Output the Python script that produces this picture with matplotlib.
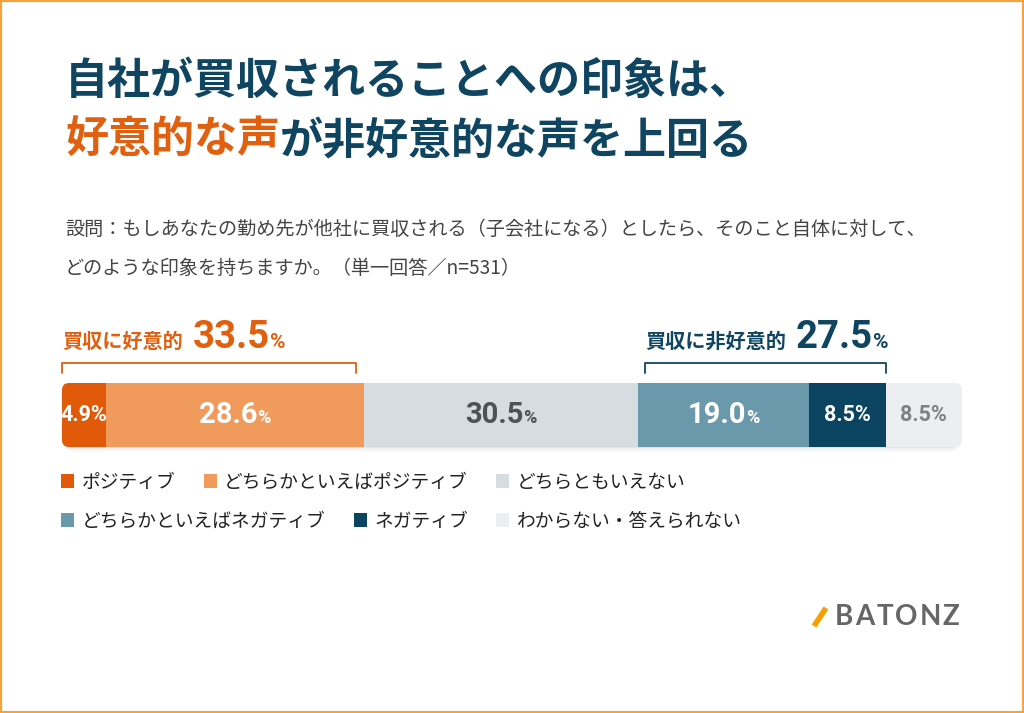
import numpy as np
import matplotlib
matplotlib.use('Agg')
import matplotlib.pyplot as plt
from matplotlib.patches import FancyBboxPatch, Rectangle
from matplotlib.offsetbox import TextArea, HPacker, AnnotationBbox
from matplotlib.lines import Line2D

plt.rcParams['font.family'] = ['Noto Sans CJK JP', 'DejaVu Sans']

# --- data ---
categories = ['ポジティブ', 'どちらかといえばポジティブ', 'どちらともいえない',
              'どちらかといえばネガティブ', 'ネガティブ', 'わからない・答えられない']
shares = [4.9, 28.6, 30.5, 19.0, 8.5, 8.5]
colors = ['#e05a0a', '#f09a5c', '#d6dde1', '#6b99ac', '#0b4461', '#eceef1']
label_colors = ['white', 'white', '#4b5358', 'white', 'white', '#808080']
big_label = [False, True, True, True, False, False]

group_names = ['買収に好意的', '買収に非好意的']
group_totals = [33.5, 27.5]
group_members = [[0, 1], [3, 4]]
group_colors = ['#e0600f', '#0f4560']

title_line1 = '自社が買収されることへの印象は、'
title_hl = '好意的な声'
title_rest = 'が非好意的な声を上回る'
question = ['設問：もしあなたの勤め先が他社に買収される（子会社になる）としたら、そのこと自体に対して、',
            'どのような印象を持ちますか。（単一回答／n=531）']
logo = 'BATONZ'

NAVY = '#0f4560'
ORANGE = '#e0600f'
NUM_FONT = ['Roboto', 'DejaVu Sans']

W, H = 1024, 713
fig = plt.figure(figsize=(W / 100, H / 100), dpi=100)
fig.patch.set_facecolor('white')


def fx(px):
    return px / W


def fy(py):
    return 1 - py / H


# title + question
fig.text(fx(65), fy(81), title_line1, fontsize=31, fontweight='bold', color=NAVY, va='center')
line2 = HPacker(children=[TextArea(title_hl, textprops=dict(fontsize=31, fontweight='bold', color=ORANGE)),
                          TextArea(title_rest, textprops=dict(fontsize=31, fontweight='bold', color=NAVY))],
                sep=0, pad=0, align='baseline')
for i, q in enumerate(question):
    fig.text(fx(65), fy(229 + 39 * i), q, fontsize=13.8, color='#444444', va='center')

# bar axes
ax = fig.add_axes([fx(62), fy(447), fx(962) - fx(62), (447 - 383) / H])
ax.set_xlim(0, 100)
ax.set_ylim(0, 1)
ax.axis('off')

ax.add_artist(AnnotationBbox(line2, (fx(65), fy(140)), xycoords='figure fraction', frameon=False,
                             box_alignment=(0, 0.5), pad=0, annotation_clip=False))

px_x = 900 / 100
px_y = 64
aspect = px_x / px_y
clip = FancyBboxPatch((0, 0), 100, 1, boxstyle='round,pad=0,rounding_size=%.3f' % (7 / px_x),
                      mutation_aspect=aspect, facecolor='none', edgecolor='none', zorder=0)
ax.add_patch(clip)

# soft shadow under the bar
for k, a in zip([1, 3, 5], [0.05, 0.035, 0.02]):
    sh = FancyBboxPatch((0.3, -k / px_y), 99.4, 1, boxstyle='round,pad=0,rounding_size=%.3f' % (9 / px_x),
                        mutation_aspect=aspect, facecolor='black', alpha=a, edgecolor='none', zorder=0,
                        clip_on=False)
    ax.add_patch(sh)

left = np.concatenate([[0], np.cumsum(shares)[:-1]])
bars = ax.barh(0.5, shares, left=left, height=1, color=colors, zorder=2)
for b, cat in zip(bars, categories):
    b.set_clip_path(clip)
    b.set_label(cat)

for i, v in enumerate(shares):
    cx = left[i] + v / 2
    if big_label[i]:
        box = HPacker(children=[TextArea('%.1f' % v, textprops=dict(fontsize=21, fontweight='bold',
                                                                    color=label_colors[i], family=NUM_FONT)),
                                TextArea('%', textprops=dict(fontsize=13, fontweight='bold',
                                                             color=label_colors[i], family=NUM_FONT))],
                      sep=-0.5, pad=0, align='baseline')
        ax.add_artist(AnnotationBbox(box, (cx, 0.5), frameon=False, box_alignment=(0.5, 0.5), pad=0, zorder=4))
    else:
        t = ax.text(cx, 0.5, '%.1f%%' % v, ha='center', va='center', fontsize=15.5, fontweight='bold',
                    color=label_colors[i], family=NUM_FONT, zorder=4)
        t.set_clip_path(clip)

# brackets + group labels
y_top = (447 - 363) / px_y
y_foot = (447 - 373) / px_y
inset = 0.8
for g, (name, tot, mem, col) in enumerate(zip(group_names, group_totals, group_members, group_colors)):
    x0 = left[mem[0]]
    x1 = left[mem[-1]] + shares[mem[-1]]
    if g == 0:
        x1 -= inset
    else:
        x0 += inset
    ax.plot([x0, x0, x1, x1], [y_foot, y_top, y_top, y_foot], color=col, lw=1.3,
            solid_joinstyle='round', solid_capstyle='round', clip_on=False)
    num = HPacker(children=[TextArea('%.1f' % tot, textprops=dict(fontsize=27.5, fontweight='bold',
                                                                  color=col, family=NUM_FONT)),
                            TextArea('%', textprops=dict(fontsize=15, fontweight='bold', color=col,
                                                         family=NUM_FONT))],
                  sep=0, pad=0, align='baseline')
    box = HPacker(children=[TextArea(name, textprops=dict(fontsize=14.5, fontweight='bold', color=col)), num],
                  sep=7, pad=0, align='baseline')
    ax.add_artist(AnnotationBbox(box, (x0, (447 - 356) / px_y), frameon=False, box_alignment=(0, 0),
                                 pad=0, annotation_clip=False))

# legend, two rows
for r, ypx in enumerate([482, 521]):
    fig.legend(handles=list(bars[3 * r:3 * r + 3]), labels=categories[3 * r:3 * r + 3],
               loc='center left', bbox_to_anchor=(fx(61), fy(ypx)), ncol=3, frameon=False,
               prop=dict(size=13.5), labelcolor='#222222',
               handlelength=0.7, handleheight=0.7, handletextpad=0.4, columnspacing=1.5,
               borderpad=0, borderaxespad=0)

# logo, drawn letter by letter with a little tracking
fig.add_artist(Line2D([fx(814), fx(826)], [fy(626), fy(608)], color='#f5a000', lw=4, solid_capstyle='butt'))
renderer = fig.canvas.get_renderer()
xpos = 835
for ch in logo:
    t = fig.text(fx(xpos), fy(617), ch, fontsize=20, fontweight='bold', color='#666666',
                 family=['Lato', 'DejaVu Sans'], va='center')
    xpos = t.get_window_extent(renderer).x1 + 2

# orange frame
fig.add_artist(Rectangle((0, 0), 1, 1, transform=fig.transFigure, fill=False, edgecolor='#f5a33a', lw=3))

fig.savefig('out.png', dpi=100, facecolor='white')
